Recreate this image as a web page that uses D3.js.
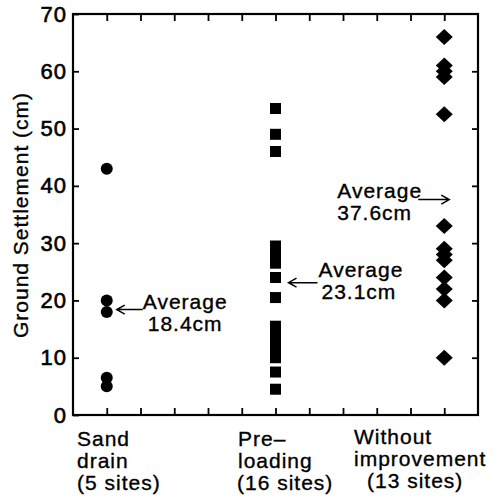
<!DOCTYPE html>
<html>
<head>
<meta charset="utf-8">
<script src="https://cdn.jsdelivr.net/npm/d3@7"></script>
<style>
  body { margin: 0; background: #fff; }
  text { font-family: "Liberation Sans", Arial, Helvetica, sans-serif; fill: #000; stroke: #000; stroke-width: 0.35px; }
</style>
</head>
<body>
<svg id="chart"></svg>
<script>
'use strict';

// data
var catPos = [1, 6, 11];
var catLabels = [
  ['Sand', 'drain', '(5 sites)'],
  ['Pre\u2013', 'loading', '(16 sites)'],
  ['Without', 'improvement', '(13 sites)']
];
var sandDrain  = [43, 20, 18, 6.5, 5];
var preLoading = [53.5, 49, 46, 29.5, 28, 26.5, 24, 20.5, 15.5, 14, 13, 12, 11, 10, 7.5, 4.5];
var withoutImp = [66, 61, 60, 59, 52.5, 33, 29, 28, 27, 24, 22, 20, 10];
var averages   = [18.4, 23.1, 37.6];
var avgLabels  = ['18.4cm', '23.1cm', '37.6cm'];
var yTicks = [0, 10, 20, 30, 40, 50, 60, 70];
var xTicks = [1, 2, 3, 4, 5, 6, 7, 8, 9, 10, 11];

// size
var W = 497, H = 501;
var svg = d3.select('#chart').attr('width', W).attr('height', H);

var x = d3.scaleLinear().domain([0, 12]).range([73, 478]);
var y = d3.scaleLinear().domain([0, 70]).range([415, 14]);

// axes (ticks pointing inward)
var gL = svg.append('g').attr('transform', 'translate(' + x(0) + ',0)')
  .call(d3.axisLeft(y).tickValues(yTicks).tickSizeInner(-6).tickSizeOuter(0).tickPadding(6));
var gR = svg.append('g').attr('transform', 'translate(' + x(12) + ',0)')
  .call(d3.axisRight(y).tickValues(yTicks.slice(1, -1)).tickSizeInner(-6).tickSizeOuter(0).tickFormat(''));
var gT = svg.append('g').attr('transform', 'translate(0,' + y(70) + ')')
  .call(d3.axisTop(x).tickValues(xTicks).tickSizeInner(-7).tickSizeOuter(0).tickFormat(''));
var gB = svg.append('g').attr('transform', 'translate(0,' + y(0) + ')')
  .call(d3.axisBottom(x).tickValues(xTicks).tickSizeInner(-7).tickSizeOuter(0).tickFormat(''));

[gL, gR, gT, gB].forEach(function(g){
  g.select('.domain').remove();
  g.selectAll('line').attr('stroke', '#000').attr('stroke-width', 1.8);
});
gL.selectAll('text')
  .style('font-size', '22px').style('letter-spacing', '1px')
  .attr('fill', '#000').style('stroke-width', '0.6px');

// frame
svg.append('rect')
  .attr('x', x(0)).attr('y', y(70))
  .attr('width', x(12) - x(0)).attr('height', y(0) - y(70))
  .attr('fill', 'none').attr('stroke', '#000').attr('stroke-width', 2.2);

// y label
svg.append('text')
  .attr('transform', 'translate(28,215) rotate(-90)')
  .attr('text-anchor', 'middle')
  .style('font-size', '21px').style('letter-spacing', '1px')
  .text('Ground Settlement (cm)');

// points
svg.append('g').selectAll('circle').data(sandDrain).enter().append('circle')
  .attr('cx', x(catPos[0])).attr('cy', function(d){ return y(d); })
  .attr('r', 6).attr('fill', '#000');

var sq = 11;
svg.append('g').selectAll('rect').data(preLoading).enter().append('rect')
  .attr('x', x(catPos[1]) - sq / 2).attr('y', function(d){ return y(d) - sq / 2; })
  .attr('width', sq).attr('height', sq).attr('fill', '#000');

var dia = 8.5;
svg.append('g').selectAll('path').data(withoutImp).enter().append('path')
  .attr('transform', function(d){ return 'translate(' + x(catPos[2]) + ',' + y(d) + ')'; })
  .attr('d', 'M0,' + (-dia + 0.5) + 'L' + dia + ',0L0,' + (dia - 0.5) + 'L' + (-dia) + ',0Z')
  .attr('fill', '#000');

// average annotations
function arrow(x0, x1, yy){
  // head at x1
  var dir = x1 > x0 ? -1 : 1;
  svg.append('path')
    .attr('d', 'M' + x0 + ',' + yy + 'L' + x1 + ',' + yy +
               'M' + (x1 + dir * 8) + ',' + (yy - 4.5) + 'L' + x1 + ',' + yy + 'L' + (x1 + dir * 8) + ',' + (yy + 4.5))
    .attr('fill', 'none').attr('stroke', '#000').attr('stroke-width', 1.5);
}
function avgText(tx, ty, label){
  var t = svg.append('text').style('font-size', '21px').style('letter-spacing', '1px');
  t.append('tspan').attr('x', tx).attr('y', ty).text('Average');
  t.append('tspan').attr('x', tx + label.dx).attr('y', ty + 22).text(label.v);
}

arrow(x(catPos[0]) + 36, x(catPos[0]) + 10, y(averages[0]));
avgText(x(catPos[0]) + 36, y(averages[0]) - 1, { dx: 5, v: avgLabels[0] });

arrow(x(catPos[1]) + 42, x(catPos[1]) + 13, y(averages[1]));
avgText(x(catPos[1]) + 43, y(averages[1]) - 6, { dx: 3, v: avgLabels[1] });

arrow(x(catPos[2]) - 26, x(catPos[2]) + 5, y(averages[2]));
avgText(x(catPos[2]) - 107, y(averages[2]) - 2, { dx: 0, v: avgLabels[2] });

// category labels
var labX = [[77, 77, 77], [238, 238, 237], [354, 354, 367]];
var labY = [446, 468, 490];
catLabels.forEach(function(lines, i){
  lines.forEach(function(s, j){
    svg.append('text')
      .attr('x', labX[i][j]).attr('y', labY[j] - (i === 2 ? 2 : 0))
      .style('font-size', '21px').style('letter-spacing', '1px')
      .text(s);
  });
});
</script>
</body>
</html>
